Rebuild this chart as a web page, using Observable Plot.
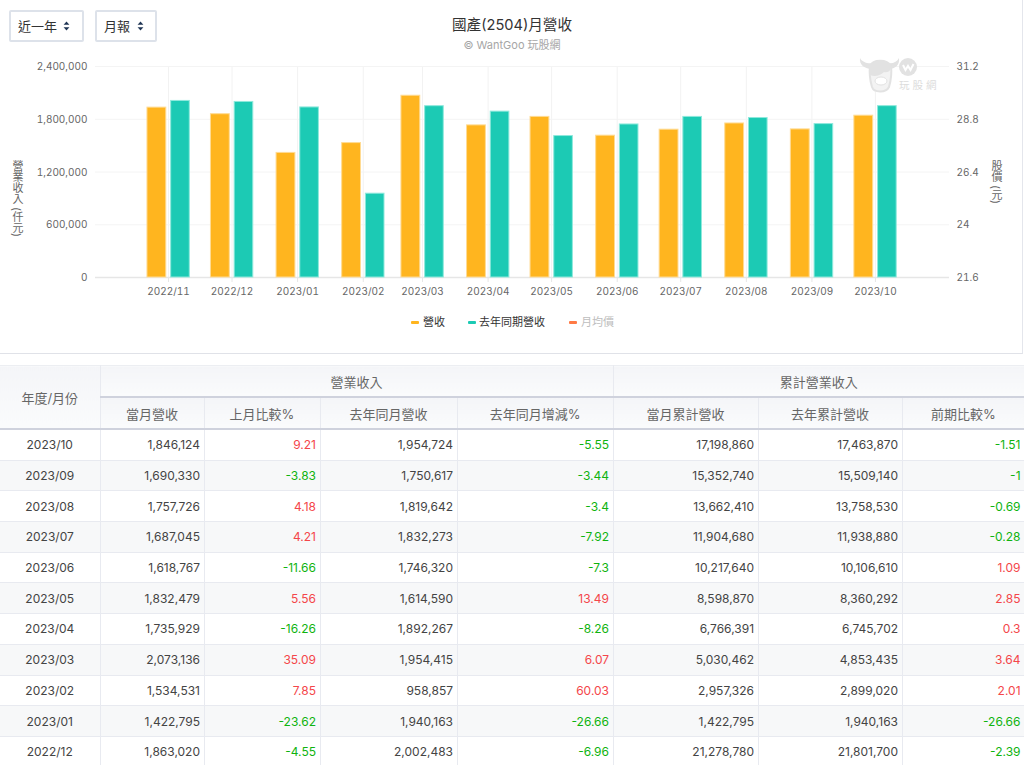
<!DOCTYPE html>
<html lang="zh-Hant">
<head>
<meta charset="utf-8">
<script src="https://cdn.jsdelivr.net/npm/d3@7"></script>
<script src="https://cdn.jsdelivr.net/npm/@observablehq/plot@0.6"></script>
<style>
html,body{margin:0;padding:0;background:#fff;overflow:hidden;width:1024px;height:765px;}
body,svg,table{font-family:Inter,"Noto Sans CJK TC",sans-serif;}
#page{position:relative;width:1024px;height:765px;overflow:hidden;}
#frame{position:absolute;left:0;top:0;width:1022px;height:353px;border-right:1px solid #e4e6ec;border-bottom:1px solid #e0e2e8;}
#chart{position:absolute;left:0;top:0;}
.abs{position:absolute;white-space:nowrap;}
.sel{position:absolute;top:10px;height:28px;border:2px solid #dde2ea;border-radius:2px;background:#fff;font-size:13px;line-height:28px;color:#333;box-sizing:content-box;}
.sel span{position:absolute;left:7px;top:0;white-space:nowrap;}
.sel svg{position:absolute;top:9px;}
#title{left:0;width:1024px;top:14px;text-align:center;font-size:14.6px;line-height:22px;color:#333;}
#sub{left:0;width:1024px;top:37px;text-align:center;font-size:11px;line-height:16px;color:#a6a6a6;}
.vert{writing-mode:vertical-rl;font-size:11px;line-height:12px;color:#666;}
.leg{font-size:11px;line-height:14px;top:315px;color:#333;}
.dash{position:absolute;top:321px;width:8px;height:3px;border-radius:1px;}
#wrap{position:absolute;left:0;top:365px;width:1024px;}
table{border-collapse:collapse;table-layout:fixed;width:1024px;font-size:12px;color:#444;}
th{font-weight:400;color:#666;font-size:13px;background:linear-gradient(#f4f5f8,#fafbfc);border-right:1px solid #e8eaf0;border-bottom:2px solid #cfd2dd;height:30px;padding:0;text-align:center;}
thead tr:first-child th{border-top:1px solid #eceef2;height:30px;}
td{height:29.7px;padding:0 3.5px;border-right:1px solid #e8eaf0;border-bottom:1px solid #e8eaf0;text-align:right;box-sizing:content-box;}
td:first-child{text-align:center;padding:0;}
th:last-child,td:last-child{border-right:0;}
tbody tr:nth-child(even) td{background:#f7f8f9;}
.up{color:#f4464a;}
.down{color:#0fb30f;}
</style>
</head>
<body>
<div id="page">
  <div id="frame"></div>
  <div id="chart"></div>
  <div class="sel" style="left:9px;width:71px;"><span>近一年</span><svg width="7" height="10" style="left:52px" viewBox="0 0 8 12"><path d="M4 0.5L7.5 4.5H0.5Z M4 11.5L0.5 7.5H7.5Z" fill="#1f3554"/></svg></div>
  <div class="sel" style="left:95px;width:58px;"><span>月報</span><svg width="7" height="10" style="left:40px" viewBox="0 0 8 12"><path d="M4 0.5L7.5 4.5H0.5Z M4 11.5L0.5 7.5H7.5Z" fill="#1f3554"/></svg></div>
  <div id="title" class="abs">國產(2504)月營收</div>
  <div id="sub" class="abs">© WantGoo 玩股網</div>
  <div class="abs vert" style="left:11px;top:160px;">營業收入 (仟元)</div>
  <div class="abs vert" style="left:990px;top:160px;">股價 (元)</div>
  <svg class="abs" style="left:856px;top:50px;" width="90" height="46" viewBox="0 0 90 46">
    <path d="M16 19C9 19 3 15 4 8C6 12 11 14 18 13Z" fill="#e2e2e2"/>
    <path d="M33 19C39 19 44 15 43 8C41 12 37 14 31 13Z" fill="#e2e2e2"/>
    <path d="M14 16C17 9 31 9 35 16C36 24 35 30 33 37C30 43 18 43 16 37C14 30 13 24 14 16Z" fill="#f3f3f3" stroke="#e2e2e2" stroke-width="2"/>
    <path d="M14 16C17 9 31 9 35 16C35 20 33 23 28 22C24 26 18 27 14 25Z" fill="#e2e2e2"/>
    <ellipse cx="25" cy="31" rx="6" ry="4" fill="#fff" stroke="#e2e2e2"/>
    <circle cx="52" cy="17" r="9" fill="#e2e2e2"/>
    <path d="M47 15L49.5 20L52 16L54.5 20L57.5 14" fill="none" stroke="#fff" stroke-width="2"/>
    <text x="43" y="39" font-size="10.5" letter-spacing="3" fill="#dcdcdc">玩股網</text>
  </svg>
  <div class="dash" style="left:411px;background:#ffb51f;"></div>
  <div class="abs leg" style="left:423px;">營收</div>
  <div class="dash" style="left:468px;background:#1ccab4;"></div>
  <div class="abs leg" style="left:479px;">去年同期營收</div>
  <div class="dash" style="left:569px;background:#ff7a45;"></div>
  <div class="abs leg" style="left:581px;color:#bdbdbd;">月均價</div>
  <div id="wrap"></div>
</div>
<script>
// ---- chart data ----
const months = ["2022/11","2022/12","2023/01","2023/02","2023/03","2023/04","2023/05","2023/06","2023/07","2023/08","2023/09","2023/10"];
const revenue = [1938000,1863020,1422795,1534531,2073136,1735929,1832479,1618767,1687045,1757726,1690330,1846124];
const lastYearRevenue = [2014000,2002483,1940163,958857,1954415,1892267,1614590,1746320,1832273,1819642,1750617,1954724];
const revenueTicks = [0,600000,1200000,1800000,2400000];
const priceTickLabels = ["21.6","24","26.4","28.8","31.2"];

// ---- table data ----
const tableMonths = ["2023/10","2023/09","2023/08","2023/07","2023/06","2023/05","2023/04","2023/03","2023/02","2023/01","2022/12"];
const curRev = ["1,846,124","1,690,330","1,757,726","1,687,045","1,618,767","1,832,479","1,735,929","2,073,136","1,534,531","1,422,795","1,863,020"];
const momPct = ["9.21","-3.83","4.18","4.21","-11.66","5.56","-16.26","35.09","7.85","-23.62","-4.55"];
const prevRev = ["1,954,724","1,750,617","1,819,642","1,832,273","1,746,320","1,614,590","1,892,267","1,954,415","958,857","1,940,163","2,002,483"];
const yoyPct = ["-5.55","-3.44","-3.4","-7.92","-7.3","13.49","-8.26","6.07","60.03","-26.66","-6.96"];
const cumRev = ["17,198,860","15,352,740","13,662,410","11,904,680","10,217,640","8,598,870","6,766,391","5,030,462","2,957,326","1,422,795","21,278,780"];
const cumPrev = ["17,463,870","15,509,140","13,758,530","11,938,880","10,106,610","8,360,292","6,745,702","4,853,435","2,899,020","1,940,163","21,801,700"];
const cumPct = ["-1.51","-1","-0.69","-0.28","1.09","2.85","0.3","3.64","2.01","-26.66","-2.39"];
const columnWidths = [100,104,116,137,156,145,144,122];

// ---- chart ----
const parse = d3.utcParse("%Y/%m");
const dates = months.map(parse);
const DAY = 864e5;
const shift = (d, n) => new Date(+d + n * DAY);
const rows = months.map((m, i) => ({date: dates[i], revenue: revenue[i], last: lastYearRevenue[i]}));

const plot = Plot.plot({
  width: 1024,
  height: 354,
  marginLeft: 95,
  marginRight: 75,
  marginTop: 66,
  marginBottom: 77,
  style: {fontSize: "10px", fontFamily: 'Inter,"Noto Sans CJK TC",sans-serif', background: "transparent"},
  x: {type: "utc", domain: [new Date(Date.UTC(2022,8,27,12)), new Date(Date.UTC(2023,10,5))], label: null},
  y: {domain: [0, 2400000], label: null},
  marks: [
    Plot.gridX(dates, {x: d => d, stroke: "#f2f2f2", strokeOpacity: 1}),
    Plot.gridY(revenueTicks, {y: d => d, stroke: "#f4f4f4", strokeOpacity: 1}),
    Plot.ruleY([0], {stroke: "#e6e6e6", strokeWidth: 1.5}),
    Plot.rectY(rows, {x1: d => shift(d.date, -9.95), x2: d => shift(d.date, -1.05), y1: 0, y2: "revenue", insetTop: 0.5, fill: "#ffb51f", stroke: "#ffdb94"}),
    Plot.rectY(rows, {x1: d => shift(d.date, 1.25), x2: d => shift(d.date, 10.05), y1: 0, y2: "last", insetTop: 0.5, fill: "#1ccab4", stroke: "#8ee9dc"}),
    Plot.axisX({ticks: dates, tickFormat: d3.utcFormat("%Y/%m"), tickSize: 5, tickPadding: 5, color: "#666", stroke: "#e6e6e6", label: null}),
    Plot.axisY({ticks: revenueTicks, tickFormat: d3.format(","), tickSize: 0, tickPadding: 8, dy: 0.5, color: "#666", label: null}),
    Plot.axisY({anchor: "right", ticks: revenueTicks, tickFormat: (d, i) => priceTickLabels[i], tickSize: 0, tickPadding: 7, dy: 0.5, color: "#666", label: null})
  ]
});
document.getElementById("chart").append(plot);

// ---- table ----
const bodyCols = [tableMonths, curRev, momPct, prevRev, yoyPct, cumRev, cumPrev, cumPct];
const pctCols = new Set([2, 4, 7]);
let html = "<table><colgroup>" + columnWidths.map(w => `<col style="width:${w}px">`).join("") + "</colgroup><thead>";
html += '<tr><th rowspan="2">年度/月份</th><th colspan="4">營業收入</th><th colspan="3">累計營業收入</th></tr>';
html += "<tr>" + ["當月營收","上月比較%","去年同月營收","去年同月增減%","當月累計營收","去年累計營收","前期比較%"].map(t => `<th>${t}</th>`).join("") + "</tr></thead><tbody>";
tableMonths.forEach((_, r) => {
  html += "<tr>" + bodyCols.map((col, c) => {
    const v = col[r];
    const cls = pctCols.has(c) ? (v.startsWith("-") ? "down" : "up") : "";
    return `<td class="${cls}">${v}</td>`;
  }).join("") + "</tr>";
});
html += "</tbody></table>";
document.getElementById("wrap").innerHTML = html;
</script>
</body>
</html>
